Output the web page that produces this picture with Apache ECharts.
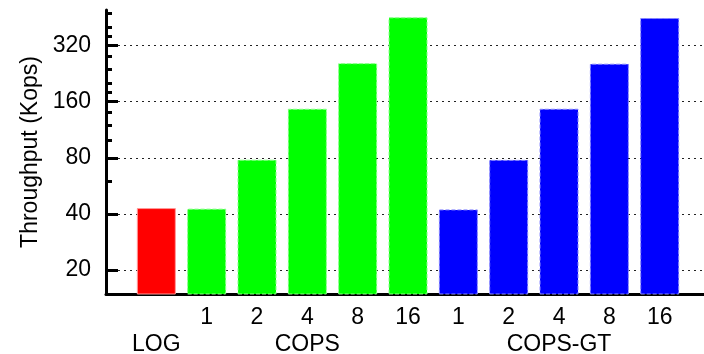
<!DOCTYPE html>
<html>
<head>
<meta charset="utf-8">
<script src="https://cdn.jsdelivr.net/npm/echarts@6/dist/echarts.min.js"></script>
<style>
html,body{margin:0;padding:0;background:#fff;}
#chart{width:704px;height:354px;}
</style>
</head>
<body>
<div id="chart"></div>
<script>
// ---- data ----
const tickLabels = ['1', '2', '4', '8', '16'];
const groupNames = ['LOG', 'COPS', 'COPS-GT'];
const logValue = [43];
const copsValues = [42.7, 78.2, 146.7, 257.6, 454];
const copsGtValues = [42.3, 78, 146.7, 256, 450];
const yMajorTicks = [20, 40, 80, 160, 320];
const yMinorTicks = [60, 100, 120, 140, 180, 200, 240, 280, 360, 400, 480];

// x positions (category indices): LOG at 0, COPS 1..5, COPS-GT 6..10
const logData = logValue.map((v, i) => [i, v]);
const copsData = copsValues.map((v, i) => [1 + i, v]);
const copsGtData = copsGtValues.map((v, i) => [6 + i, v]);

const xLabelMap = {};
xLabelMap[0] = ' \n' + groupNames[0];
tickLabels.forEach((t, i) => {
  xLabelMap[1 + i] = t + '\n' + (i === 2 ? groupNames[1] : ' ');
  xLabelMap[6 + i] = t + '\n' + (i === 2 ? groupNames[2] : ' ');
});
const xLabelPositions = Object.keys(xLabelMap).map(Number);

const FONT = 'Liberation Sans, Arial, Helvetica, sans-serif';
const FS = 23;
const chart = echarts.init(document.getElementById('chart'), null, {renderer: 'canvas'});
const yMin = 14.87, yMax = 497;

function tickAxis(values, len) {
  return {
    type: 'log',
    logBase: 2,
    min: yMin,
    max: yMax,
    position: 'left',
    offset: 0,
    z: 5,
    axisLine: {show: false, onZero: false},
    axisTick: {show: true, inside: true, length: len, customValues: values.slice(), lineStyle: {color: '#000', width: 3}},
    axisLabel: {show: false},
    splitLine: {show: false}
  };
}

chart.setOption({
  animation: false,
  backgroundColor: '#fff',
  textStyle: {fontFamily: FONT},
  grid: {left: 106, right: 0, top: 10, bottom: 60, containLabel: false, outerBoundsMode: 'none'},
  xAxis: {
    type: 'value',
    min: -1,
    max: 10.88,
    axisLine: {show: true, onZero: false, lineStyle: {color: '#000', width: 3}},
    axisTick: {show: false},
    splitLine: {show: false},
    axisLabel: {
      customValues: xLabelPositions,
      formatter: v => xLabelMap[Math.round(v)] || '',
      color: '#000',
      fontSize: FS,
      fontFamily: FONT,
      lineHeight: 27,
      margin: 10,
      showMinLabel: true,
      showMaxLabel: true
    }
  },
  yAxis: [{
    type: 'log',
    logBase: 2,
    min: yMin,
    max: yMax,
    name: 'Throughput (Kops)',
    nameLocation: 'middle',
    nameGap: 64,
    nameTextStyle: {color: '#000', fontSize: FS, fontFamily: FONT},
    axisLine: {show: true, onZero: false, lineStyle: {color: '#000', width: 3}},
    axisTick: {show: false, customValues: yMajorTicks.slice()},
    axisLabel: {customValues: yMajorTicks.slice(), color: '#000', fontSize: FS, fontFamily: FONT, margin: 15},
    splitLine: {show: true, lineStyle: {color: '#222', width: 1, type: [2, 4]}},
    minorTick: {show: false},
    minorSplitLine: {show: false}
  },
  tickAxis(yMajorTicks, 12),
  tickAxis(yMinorTicks, 6)],
  series: [{
    name: groupNames[0],
    type: 'bar',
    data: logData,
    barWidth: 39,
    barGap: '-100%',
    clip: true,
    itemStyle: {color: '#ff0000', borderColor: '#ff9999', borderWidth: 1}
  }, {
    name: groupNames[1],
    type: 'bar',
    data: copsData,
    barWidth: 39,
    barGap: '-100%',
    clip: true,
    itemStyle: {color: '#00ff00', borderColor: '#88ff88', borderWidth: 1, borderType: 'dashed'}
  }, {
    name: groupNames[2],
    type: 'bar',
    data: copsGtData,
    barWidth: 39,
    barGap: '-100%',
    clip: true,
    itemStyle: {color: '#0000ff', borderColor: '#8888ff', borderWidth: 1, borderType: 'dashed'}
  }]
});
</script>
</body>
</html>
